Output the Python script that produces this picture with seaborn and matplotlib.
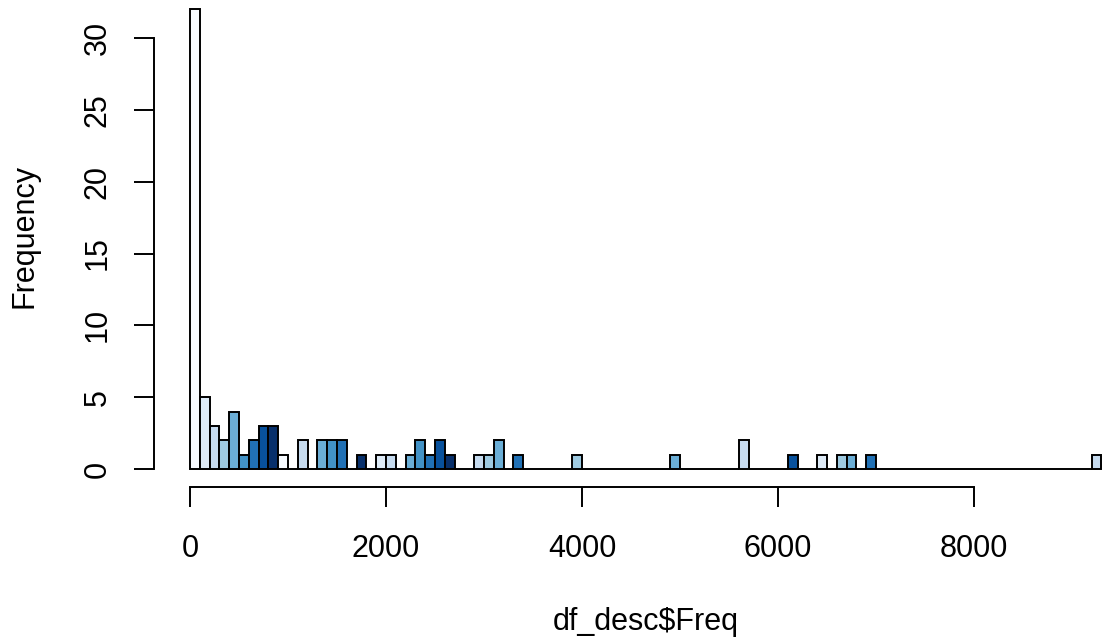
import numpy as np
import pandas as pd
import matplotlib
matplotlib.use("Agg")
import matplotlib.pyplot as plt
import seaborn as sns

# Histogram data (bin width 100)
bin_index = [0, 1, 2, 3, 4, 5, 6, 7, 8, 9, 11, 13, 14, 15, 17, 19, 20, 22, 23, 24,
             25, 26, 29, 30, 31, 33, 39, 49, 56, 61, 64, 66, 67, 69, 92]
counts = [32, 5, 3, 2, 4, 1, 2, 3, 3, 1, 2, 2, 2, 2, 1, 1, 1, 1, 2, 1,
          2, 1, 1, 1, 2, 1, 1, 1, 2, 1, 1, 1, 1, 1, 1]
bin_width = 100
n_bins = 93
blues = ["#F7FBFF", "#DEEBF7", "#C6DBEF", "#9ECAE1", "#6BAED6",
         "#4292C6", "#2171B5", "#08519C", "#08306B"]
x_ticks = [0, 2000, 4000, 6000, 8000]
y_ticks = [0, 5, 10, 15, 20, 25, 30]
x_label = "df_desc$Freq"
y_label = "Frequency"

sns.set_style("white")
plt.rcParams["font.family"] = ["Liberation Sans", "DejaVu Sans"]

df = pd.DataFrame({"mid": [b * bin_width + bin_width / 2 for b in bin_index],
                   "n": counts})

W, H = 1103, 643
fig = plt.figure(figsize=(W / 100, H / 100), dpi=100)
# plot region in pixels (R style 4% expansion)
left_px, right_px = 153.5, 1137.9
top_px, bot_px = -9.1, 487.4
ax = fig.add_axes([left_px / W, (H - bot_px) / H,
                   (right_px - left_px) / W, (bot_px - top_px) / H])

sns.histplot(data=df, x="mid", weights="n",
             binwidth=bin_width, binrange=(0, n_bins * bin_width),
             ax=ax, stat="count", element="bars", fill=True,
             edgecolor="black", linewidth=1.4, alpha=1)
for i, p in enumerate(ax.patches):
    p.set_facecolor(blues[i % len(blues)])
    p.set_edgecolor("black")
    p.set_linewidth(1.4)

ax.set_xlim(-372, 9672)
ax.set_ylim(-1.28, 33.28)
ax.set_xlabel("")
ax.set_ylabel("")
ax.set_facecolor("white")
for s in ["top", "right"]:
    ax.spines[s].set_visible(False)
for s in ["left", "bottom"]:
    ax.spines[s].set_visible(True)
    ax.spines[s].set_color("black")
    ax.spines[s].set_linewidth(1.4)
ax.spines["bottom"].set_bounds(0, 8000)
ax.spines["left"].set_bounds(0, 30)

ax.set_xticks(x_ticks)
ax.set_xticklabels([str(v) for v in x_ticks])
ax.set_yticks(y_ticks)
ax.set_yticklabels([str(v) for v in y_ticks], rotation=90, va="center")
ax.tick_params(axis="both", which="major", length=14.4, width=1.4,
               color="black", labelsize=22, labelcolor="black",
               bottom=True, left=True, direction="out")
ax.tick_params(axis="x", pad=19)
ax.tick_params(axis="y", pad=15)
ax.grid(False)

fig.text(646 / W, (H - 630) / H, x_label, ha="center", va="baseline",
         fontsize=22, color="black")
fig.text(33 / W, (H - 236) / H, y_label, ha="center", va="baseline",
         rotation=90, rotation_mode="anchor", fontsize=22, color="black")

fig.savefig("out.png", dpi=100, facecolor="white")
